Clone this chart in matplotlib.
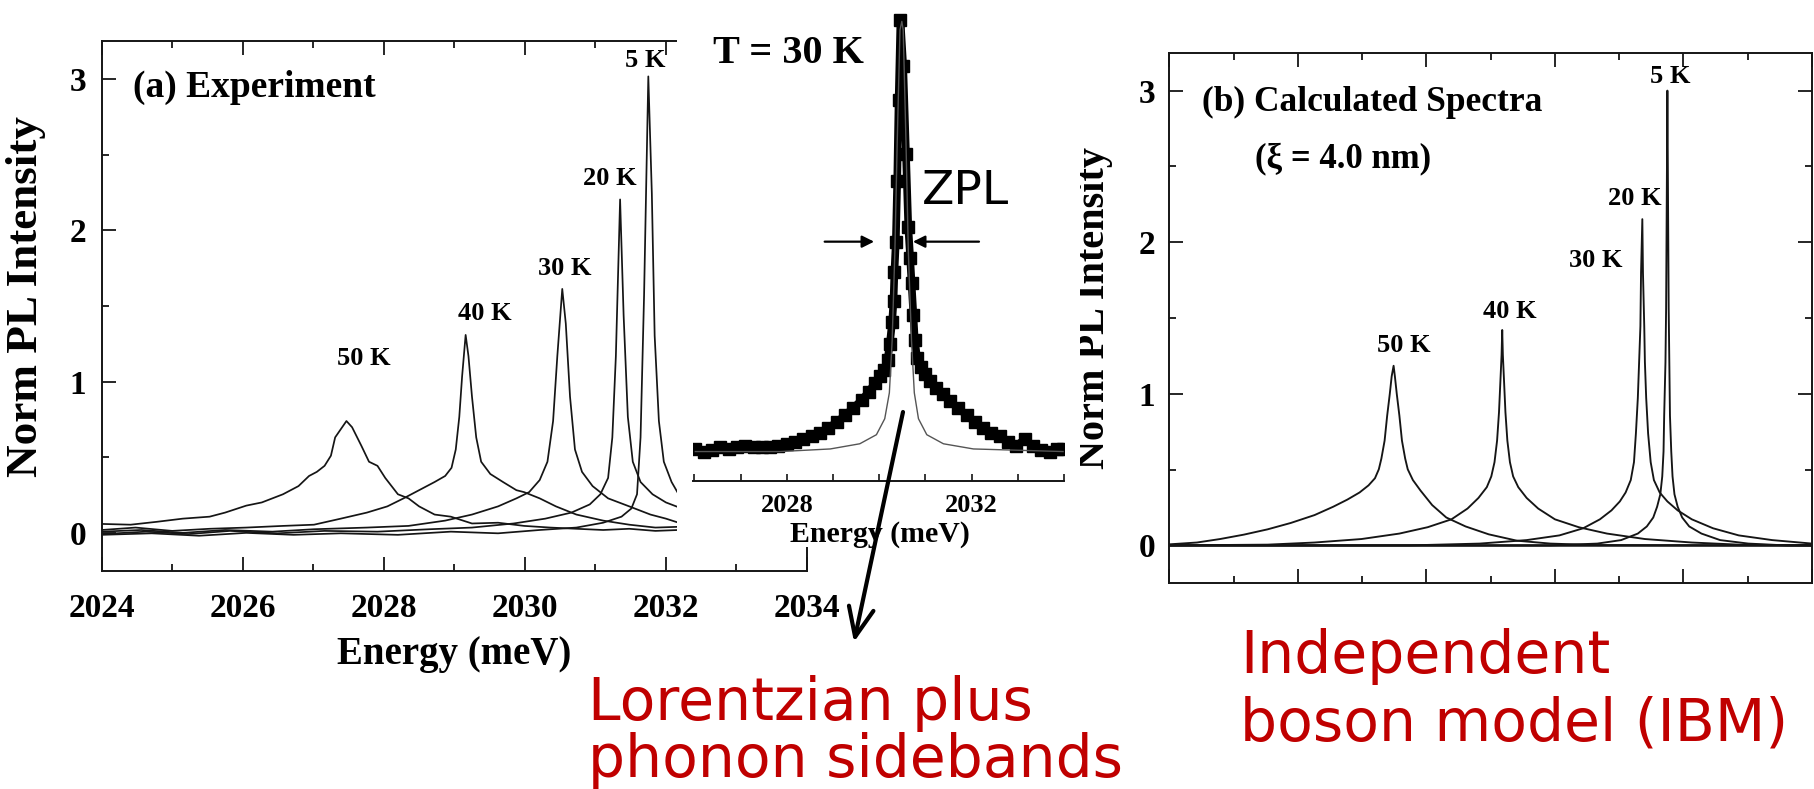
import matplotlib.pyplot as plt
from matplotlib.patches import Rectangle
from matplotlib.ticker import MultipleLocator

plt.rcParams['font.family'] = 'Liberation Serif'
plt.rcParams['font.weight'] = 'bold'
plt.rcParams['axes.labelweight'] = 'bold'

W, H = 1814, 789

# (a) measured PL spectra: energy (meV), normalised intensity
e_5k = [2024.00, 2024.71, 2025.38, 2026.05, 2026.72, 2027.39, 2028.20, 2028.95, 2029.62, 2030.21,
        2030.73, 2031.11, 2031.37, 2031.51, 2031.59, 2031.64, 2031.69, 2031.75, 2031.80, 2031.84,
        2031.90, 2031.97, 2032.08, 2032.18]
i_5k = [-0.013, -0.003, -0.019, 0.000, -0.013, -0.003, -0.013, 0.008, -0.003, 0.019,
        0.035, 0.067, 0.107, 0.161, 0.255, 0.631, 1.571, 3.016, 2.243, 1.303,
        0.739, 0.470, 0.336, 0.255]
e_20k = [2024.00, 2024.63, 2025.23, 2025.82, 2026.49, 2027.16, 2027.91, 2028.65, 2029.25, 2029.84,
         2030.29, 2030.66, 2030.92, 2031.07, 2031.18, 2031.24, 2031.29, 2031.35, 2031.40, 2031.46,
         2031.53, 2031.64, 2031.81, 2032.00, 2032.18]
i_20k = [-0.008, 0.008, -0.008, 0.013, -0.003, 0.013, 0.008, 0.024, 0.035, 0.062,
         0.094, 0.134, 0.188, 0.255, 0.363, 0.631, 1.168, 2.203, 1.437, 0.766,
         0.470, 0.336, 0.255, 0.201, 0.169]
e_30k = [2024.00, 2024.56, 2025.15, 2025.75, 2026.42, 2027.01, 2027.76, 2028.35, 2028.87, 2029.25,
         2029.62, 2029.88, 2030.06, 2030.21, 2030.32, 2030.40, 2030.46, 2030.53, 2030.58, 2030.64,
         2030.71, 2030.81, 2030.96, 2031.18, 2031.48, 2031.78, 2032.00, 2032.18]
i_30k = [0.008, 0.019, 0.000, 0.019, 0.008, 0.024, 0.035, 0.046, 0.081, 0.121,
         0.175, 0.228, 0.269, 0.349, 0.470, 0.739, 1.168, 1.612, 1.383, 0.900,
         0.551, 0.403, 0.309, 0.228, 0.175, 0.121, 0.094, 0.067]
e_40k = [2024.00, 2024.48, 2025.00, 2025.53, 2026.05, 2026.57, 2027.01, 2027.39, 2027.76, 2028.05,
         2028.28, 2028.50, 2028.72, 2028.87, 2028.96, 2029.02, 2029.07, 2029.11, 2029.16, 2029.20,
         2029.25, 2029.31, 2029.38, 2029.51, 2029.69, 2029.88, 2029.99, 2030.21, 2030.44, 2030.73,
         2031.11, 2031.48, 2031.85, 2032.18]
i_40k = [0.019, 0.035, 0.013, 0.027, 0.035, 0.046, 0.054, 0.094, 0.134, 0.175,
         0.228, 0.282, 0.336, 0.376, 0.430, 0.551, 0.766, 1.034, 1.308, 1.168,
         0.900, 0.631, 0.470, 0.389, 0.336, 0.282, 0.269, 0.228, 0.175, 0.121,
         0.081, 0.054, 0.035, 0.040]
e_50k = [2024.00, 2024.41, 2024.78, 2025.15, 2025.53, 2025.75, 2026.05, 2026.27, 2026.57, 2026.79,
         2026.94, 2027.05, 2027.16, 2027.25, 2027.31, 2027.39, 2027.47, 2027.55, 2027.68, 2027.79,
         2027.91, 2028.02, 2028.20, 2028.35, 2028.50, 2028.72, 2028.95, 2029.25, 2029.62, 2029.99,
         2030.36, 2030.73, 2031.11, 2031.48, 2031.85, 2032.18]
i_50k = [0.059, 0.054, 0.073, 0.094, 0.107, 0.134, 0.180, 0.201, 0.255, 0.309,
         0.376, 0.403, 0.443, 0.510, 0.631, 0.685, 0.739, 0.698, 0.577, 0.470,
         0.443, 0.363, 0.255, 0.228, 0.175, 0.121, 0.107, 0.062, 0.067, 0.046,
         0.035, 0.027, 0.019, 0.027, 0.013, 0.019]
temps_a = ['5 K', '20 K', '30 K', '40 K', '50 K']

# inset: 30 K spectrum (points) and the Lorentzian zero-phonon line
e_pts = [2026.02, 2026.20, 2026.38, 2026.56, 2026.74, 2026.92, 2027.10, 2027.28, 2027.46, 2027.64,
         2027.82, 2028.00, 2028.18, 2028.36, 2028.54, 2028.72, 2028.90, 2029.08, 2029.26, 2029.44,
         2029.62, 2029.77, 2029.91, 2030.02, 2030.10, 2030.18, 2030.23, 2030.28, 2030.31, 2030.33,
         2030.36, 2030.39, 2030.42, 2030.46, 2030.52, 2030.58, 2030.63, 2030.67, 2030.70, 2030.74,
         2030.77, 2030.82, 2030.90, 2030.99, 2031.10, 2031.24, 2031.39, 2031.53, 2031.71, 2031.89,
         2032.07, 2032.25, 2032.43, 2032.61, 2032.79, 2032.97, 2033.15, 2033.33, 2033.51, 2033.69,
         2033.84, 2033.98]
v_pts = [0.000, -0.006, -0.003, 0.004, 0.000, 0.005, 0.008, 0.004, 0.005, 0.004,
         0.008, 0.012, 0.016, 0.022, 0.030, 0.038, 0.049, 0.062, 0.078, 0.095,
         0.113, 0.132, 0.153, 0.169, 0.182, 0.207, 0.244, 0.294, 0.343, 0.410,
         0.480, 0.621, 0.807, 0.994, 0.886, 0.683, 0.513, 0.443, 0.385, 0.310,
         0.252, 0.211, 0.190, 0.174, 0.157, 0.140, 0.128, 0.111, 0.095, 0.078,
         0.062, 0.049, 0.037, 0.029, 0.016, 0.008, 0.022, 0.008, -0.003, -0.006,
         0.000, 0.000]
e_zpl = [2026.02, 2027.86, 2028.94, 2029.58, 2029.94, 2030.12, 2030.22, 2030.28, 2030.34, 2030.39,
         2030.45, 2030.49, 2030.52, 2030.58, 2030.63, 2030.70, 2030.76, 2030.85, 2031.03, 2031.39,
         2032.04, 2033.98]
v_zpl = [-0.006, -0.006, 0.000, 0.012, 0.033, 0.070, 0.130, 0.250, 0.460, 0.710,
         0.970, 0.990, 0.970, 0.710, 0.460, 0.250, 0.130, 0.070, 0.033, 0.012,
         0.000, -0.006]

# (b) independent boson model spectra
e_b5 = [2024.00, 2029.93, 2030.66, 2031.03, 2031.29, 2031.43, 2031.53, 2031.59, 2031.64, 2031.67,
        2031.69, 2031.70, 2031.72, 2031.73, 2031.74, 2031.75, 2031.76, 2031.77, 2031.78, 2031.79,
        2031.81, 2031.83, 2031.86, 2031.91, 2031.98, 2032.09, 2032.28, 2032.57, 2033.01, 2033.60,
        2034.00]
i_b5 = [0.000, 0.000, 0.012, 0.035, 0.078, 0.125, 0.184, 0.255, 0.337, 0.455,
        0.620, 0.856, 1.209, 1.563, 2.270, 3.000, 2.270, 1.563, 1.209, 0.856,
        0.620, 0.455, 0.337, 0.255, 0.184, 0.125, 0.078, 0.035, 0.012, 0.000,
        0.000]
e_b30 = [2024.00, 2027.73, 2028.83, 2029.56, 2030.07, 2030.44, 2030.70, 2030.88, 2031.01, 2031.10,
         2031.18, 2031.23, 2031.26, 2031.29, 2031.31, 2031.33, 2031.34, 2031.36, 2031.37, 2031.39,
         2031.40, 2031.42, 2031.45, 2031.49, 2031.54, 2031.63, 2031.75, 2031.91, 2032.13, 2032.46,
         2032.86, 2033.38, 2034.00]
i_b30 = [0.000, 0.000, 0.012, 0.035, 0.066, 0.113, 0.172, 0.231, 0.290, 0.349,
         0.431, 0.549, 0.738, 0.973, 1.209, 1.445, 1.798, 2.152, 1.798, 1.445,
         1.209, 0.973, 0.738, 0.549, 0.431, 0.349, 0.290, 0.231, 0.172, 0.113,
         0.066, 0.035, 0.012]
e_b40 = [2024.00, 2025.53, 2026.26, 2026.99, 2027.58, 2028.02, 2028.39, 2028.64, 2028.81, 2028.94,
         2029.01, 2029.06, 2029.10, 2029.13, 2029.15, 2029.17, 2029.18, 2029.19, 2029.21, 2029.23,
         2029.26, 2029.30, 2029.35, 2029.43, 2029.56, 2029.74, 2030.00, 2030.37, 2030.81, 2031.40,
         2032.13, 2032.86, 2034.00]
i_b40 = [0.000, 0.005, 0.019, 0.042, 0.078, 0.120, 0.172, 0.243, 0.313, 0.384,
         0.455, 0.549, 0.691, 0.879, 1.068, 1.256, 1.421, 1.256, 1.068, 0.879,
         0.691, 0.549, 0.455, 0.384, 0.313, 0.243, 0.172, 0.120, 0.078, 0.042,
         0.019, 0.005, 0.000]
e_b50 = [2024.00, 2024.43, 2024.79, 2025.16, 2025.53, 2025.89, 2026.26, 2026.55, 2026.77, 2026.96,
         2027.10, 2027.20, 2027.26, 2027.30, 2027.35, 2027.39, 2027.43, 2027.46, 2027.49, 2027.51,
         2027.54, 2027.58, 2027.62, 2027.67, 2027.71, 2027.79, 2027.91, 2028.09, 2028.31, 2028.61,
         2028.97, 2029.41, 2029.93, 2030.66, 2034.00]
i_b50 = [0.007, 0.019, 0.042, 0.071, 0.106, 0.148, 0.200, 0.255, 0.302, 0.349,
         0.396, 0.443, 0.502, 0.573, 0.691, 0.856, 0.997, 1.115, 1.185, 1.115,
         0.997, 0.856, 0.691, 0.573, 0.502, 0.431, 0.361, 0.266, 0.184, 0.125,
         0.073, 0.031, 0.012, 0.002, 0.000]
temps_b = ['5 K', '20 K', '30 K', '40 K', '50 K']

ink = '#151515'
red = '#C00000'


def px_rect(x0, y0, x1, y1):
    return [x0 / W, 1 - y1 / H, (x1 - x0) / W, (y1 - y0) / H]


def style_frame(ax):
    ax.set_xlim(2024, 2034)
    ax.set_ylim(-0.25, 3.25)
    ax.xaxis.set_major_locator(MultipleLocator(2))
    ax.xaxis.set_minor_locator(MultipleLocator(1))
    ax.yaxis.set_major_locator(MultipleLocator(1))
    ax.yaxis.set_minor_locator(MultipleLocator(0.5))
    ax.tick_params(which='both', direction='in', top=True, right=True, width=1.3, color=ink)
    ax.tick_params(which='major', length=10)
    ax.tick_params(which='minor', length=5)
    ax.tick_params(axis='x', pad=16, labelsize=24)
    ax.tick_params(axis='y', pad=11, labelsize=24)
    for s in ax.spines.values():
        s.set_linewidth(1.4)
        s.set_color(ink)


fig = plt.figure(figsize=(W / 100, H / 100), dpi=100)

# panel (a)
ax = fig.add_axes(px_rect(101.7, 41, 807, 570.7))
ax.set_zorder(1)
style_frame(ax)
for e, i in [(e_5k, i_5k), (e_20k, i_20k), (e_30k, i_30k), (e_40k, i_40k), (e_50k, i_50k)]:
    ax.plot(e, i, color=ink, lw=1.25)
for lab, (x, y) in zip(temps_a, [(2031.70, 3.12), (2031.20, 2.34), (2030.57, 1.75),
                                 (2029.43, 1.45), (2027.72, 1.15)]):
    ax.text(x, y, lab, ha='center', va='center', fontsize=19)
ax.text(2024.45, 2.94, '(a) Experiment', ha='left', va='center', fontsize=27)
ax.set_xlabel('Energy (meV)', fontsize=28)
ax.xaxis.set_label_coords(0.5, -0.123)
ax.set_ylabel('Norm PL Intensity', fontsize=32.5)
ax.yaxis.set_label_coords(-0.079, 0.517)

# white backing for the inset, hides the top-right corner of (a)
fig.add_artist(Rectangle((677 / W, 1 - 547 / H), 403 / W, 547 / H, transform=fig.transFigure,
                         facecolor='white', edgecolor='none', zorder=2))

# inset
ins = fig.add_axes(px_rect(693, 5, 1064, 481))
ins.set_zorder(3)
ins.set_xlim(2025.97, 2034.0)
ins.set_ylim(-0.0742, 1.028)
for side in ['left', 'right', 'top']:
    ins.spines[side].set_visible(False)
ins.spines['bottom'].set_linewidth(1.4)
ins.spines['bottom'].set_color(ink)
ins.set_yticks([])
ins.xaxis.set_major_locator(MultipleLocator(4))
ins.xaxis.set_minor_locator(MultipleLocator(1))
ins.tick_params(which='both', direction='in', length=5, width=1.2, color=ink)
ins.tick_params(axis='x', labelsize=19, pad=9)
ins.plot(e_pts, v_pts, color='black', lw=5.5, marker='s', ms=8, zorder=2)
ins.plot(e_zpl, v_zpl, color='#555555', lw=1.0, zorder=3)
ins.set_xlabel('Energy (meV)', fontsize=21.5)
ins.xaxis.set_label_coords(0.504, -0.113)
ins.xaxis.label.set_va('center')
ins.text(2026.41, 0.916, 'T = 30 K', ha='left', va='center', fontsize=29)
ins.annotate('', xy=(2029.95, 0.48), xytext=(2028.76, 0.48),
             arrowprops=dict(arrowstyle='-|>', color='black', lw=1.6, mutation_scale=18))
ins.annotate('', xy=(2030.67, 0.48), xytext=(2032.22, 0.48),
             arrowprops=dict(arrowstyle='-|>', color='black', lw=1.6, mutation_scale=18))
ins.text(921.7 / W, 1 - 192 / H, 'ZPL', transform=fig.transFigure, family='DejaVu Sans',
         fontweight='normal', fontsize=34, ha='left', va='center')
ins.annotate('', xy=(854, H - 642), xycoords='figure pixels',
             xytext=(903, H - 412), textcoords='figure pixels', annotation_clip=False,
             arrowprops=dict(arrowstyle='->,head_length=0.7,head_width=0.3', color='black',
                             lw=3, mutation_scale=30, shrinkA=0, shrinkB=0))

# panel (b)
bx = fig.add_axes(px_rect(1169.3, 52.7, 1812, 583.3))
style_frame(bx)
bx.tick_params(axis='x', labelbottom=False)
bx.tick_params(axis='y', pad=10)
bx.axhline(0, color=ink, lw=1.8)
for e, i in [(e_b5, i_b5), (e_b30, i_b30), (e_b40, i_b40), (e_b50, i_b50)]:
    bx.plot(e, i, color=ink, lw=1.35)
for lab, (x, y) in zip(temps_b, [(2031.80, 3.09), (2031.25, 2.29), (2030.64, 1.88),
                                 (2029.30, 1.54), (2027.65, 1.32)]):
    bx.text(x, y, lab, ha='center', va='center', fontsize=19)
bx.text(2024.51, 2.92, '(b) Calculated Spectra', ha='left', va='center', fontsize=25.5)
bx.text(2025.34, 2.55, '(\u03be = 4.0 nm)', ha='left', va='center', fontsize=25)
bx.set_ylabel('Norm PL Intensity', fontsize=29)
bx.yaxis.set_label_coords(-0.0876, 0.519)

# captions
cap = dict(family='DejaVu Sans', fontweight='normal', fontsize=42, color=red,
           ha='left', va='baseline')
fig.text(588 / W, 1 - 720 / H, 'Lorentzian plus', **cap)
fig.text(588 / W, 1 - 777 / H, 'phonon sidebands', **cap)
fig.text(1240 / W, 1 - 673 / H, 'Independent', **cap)
fig.text(1240 / W, 1 - 740 / H, 'boson model (IBM)', **cap)

fig.savefig('out.png', dpi=100)
